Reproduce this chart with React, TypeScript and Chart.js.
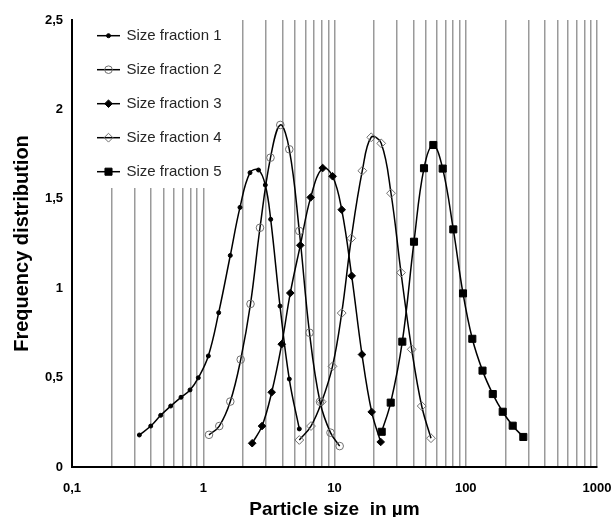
import React, { useEffect, useRef } from 'react';
import { Chart, registerables } from 'chart.js';

Chart.register(...registerables);

// ---- Data ----
const seriesNames = ['Size fraction 1', 'Size fraction 2', 'Size fraction 3', 'Size fraction 4', 'Size fraction 5'];

const sf1X = [0.326, 0.398, 0.474, 0.565, 0.677, 0.793, 0.917, 1.093, 1.311, 1.607, 1.905, 2.271, 2.636, 2.97, 3.265, 3.845, 4.524, 5.393];
const sf1Y = [0.179, 0.229, 0.289, 0.341, 0.39, 0.431, 0.499, 0.621, 0.863, 1.183, 1.452, 1.646, 1.661, 1.577, 1.385, 0.9, 0.492, 0.213];

const sf2X = [1.106, 1.325, 1.607, 1.929, 2.291, 2.706, 3.254, 3.864, 4.524, 5.393, 6.449, 7.753, 9.322, 10.95];
const sf2Y = [0.18, 0.229, 0.366, 0.601, 0.912, 1.338, 1.73, 1.913, 1.777, 1.32, 0.751, 0.365, 0.192, 0.117];

const sf3X = [2.36, 2.804, 3.323, 3.961, 4.604, 5.49, 6.587, 8.128, 9.672, 11.35, 13.52, 16.2, 19.2, 22.49];
const sf3Y = [0.133, 0.229, 0.418, 0.687, 0.973, 1.24, 1.508, 1.672, 1.626, 1.439, 1.069, 0.629, 0.308, 0.14];

const sf4X = [5.393, 6.622, 7.99, 9.656, 11.35, 13.43, 16.29, 19.04, 22.69, 26.95, 32.12, 38.74, 46.17, 54.35];
const sf4Y = [0.151, 0.229, 0.365, 0.563, 0.861, 1.279, 1.657, 1.844, 1.81, 1.531, 1.087, 0.658, 0.341, 0.161];

const sf5X = [22.89, 26.81, 32.86, 40.34, 48.07, 56.6, 66.73, 80.38, 95.3, 112.2, 134.2, 160.7, 191.2, 227.9, 274.5];
const sf5Y = [0.197, 0.36, 0.701, 1.26, 1.671, 1.801, 1.669, 1.329, 0.971, 0.717, 0.539, 0.408, 0.309, 0.231, 0.168];

const xTicks = [
  0.1, 0.2, 0.3, 0.4, 0.5, 0.6, 0.7, 0.8, 0.9,
  1, 2, 3, 4, 5, 6, 7, 8, 9,
  10, 20, 30, 40, 50, 60, 70, 80, 90,
  100, 200, 300, 400, 500, 600, 700, 800, 900,
  1000,
];
const xLabelValues = [0.1, 1, 10, 100, 1000];
const xLabelTexts = ['0,1', '1', '10', '100', '1000'];

const yTicks = [0, 0.5, 1, 1.5, 2, 2.5];
const yTickLabels = ['0', '0,5', '1', '1,5', '2', '2,5'];

const FONT = "'Liberation Sans', Arial, Helvetica, sans-serif";

type MarkerSpec = { style: string; radius: number; fill: string; stroke: string; width: number };
const markers: MarkerSpec[] = [
  { style: 'circle', radius: 2, fill: '#000', stroke: '#000', width: 1 },
  { style: 'circle', radius: 3.8, fill: 'rgba(255,255,255,0)', stroke: '#6f6f6f', width: 1 },
  { style: 'rectRot', radius: 3.8, fill: '#000', stroke: '#000', width: 1 },
  { style: 'rectRot', radius: 4.4, fill: 'rgba(255,255,255,0)', stroke: '#6f6f6f', width: 1 },
  { style: 'rect', radius: 5, fill: '#000', stroke: '#000', width: 1 },
];

function drawMarker(ctx: CanvasRenderingContext2D, m: MarkerSpec, x: number, y: number) {
  ctx.save();
  ctx.beginPath();
  const r = m.radius;
  if (m.style === 'circle') {
    ctx.arc(x, y, r, 0, Math.PI * 2);
  } else if (m.style === 'rectRot') {
    ctx.moveTo(x - r, y);
    ctx.lineTo(x, y - r);
    ctx.lineTo(x + r, y);
    ctx.lineTo(x, y + r);
    ctx.closePath();
  } else {
    const s = Math.SQRT1_2 * r;
    ctx.rect(x - s, y - s, 2 * s, 2 * s);
  }
  ctx.fillStyle = m.fill;
  ctx.fill();
  ctx.lineWidth = m.width;
  ctx.strokeStyle = m.stroke;
  ctx.stroke();
  ctx.restore();
}

const boxLegend = {
  id: 'boxLegend',
  beforeDatasetsDraw(chart: any) {
    const { ctx, chartArea } = chart;
    ctx.save();
    ctx.fillStyle = '#ffffff';
    ctx.fillRect(chartArea.left + 1.5, chartArea.top - 1, 165, 169);
    chart.data.datasets.forEach((ds: any, i: number) => {
      const y = chartArea.top + 15.7 + i * 34;
      const x0 = chartArea.left + 25;
      ctx.beginPath();
      ctx.moveTo(x0, y);
      ctx.lineTo(x0 + 23, y);
      ctx.lineWidth = 1.5;
      ctx.strokeStyle = '#000';
      ctx.stroke();
      drawMarker(ctx, markers[i], x0 + 11.5, y);
      ctx.fillStyle = '#262626';
      ctx.font = `15px ${FONT}`;
      ctx.textAlign = 'left';
      ctx.textBaseline = 'middle';
      ctx.fillText(ds.label, x0 + 29.5, y + 0.5);
    });
    ctx.restore();
  },
};

function toPoints(xs: number[], ys: number[]) {
  return xs.map((x, i) => ({ x, y: ys[i] }));
}

export default function App() {
  const ref = useRef<HTMLCanvasElement>(null);
  useEffect(() => {
    if (!ref.current) return;
    const all = [
      [sf1X, sf1Y],
      [sf2X, sf2Y],
      [sf3X, sf3Y],
      [sf4X, sf4Y],
      [sf5X, sf5Y],
    ];
    const datasets = all.map(([xs, ys], i) => ({
      label: seriesNames[i],
      data: toPoints(xs, ys),
      borderColor: '#000',
      borderWidth: 1.5,
      tension: 0.4,
      pointStyle: markers[i].style,
      pointRadius: markers[i].radius,
      pointBackgroundColor: markers[i].fill,
      pointBorderColor: markers[i].stroke,
      pointBorderWidth: markers[i].width,
      fill: false,
    }));
    const chart = new Chart(ref.current, {
      type: 'line',
      data: { datasets },
      plugins: [boxLegend],
      options: {
        animation: false,
        responsive: false,
        devicePixelRatio: 1,
        layout: { padding: { top: 20, right: 18, left: 0, bottom: 0 } },
        plugins: { legend: { display: false }, tooltip: { enabled: false } },
        scales: {
          x: {
            type: 'logarithmic',
            min: 0.1,
            max: 1000,
            afterBuildTicks: (scale: any) => {
              scale.ticks = xTicks.map((v) => ({ value: v }));
            },
            afterFit: (scale: any) => {
              scale.height = 50;
              scale.paddingLeft = 0;
              scale.paddingRight = 0;
            },
            ticks: {
              autoSkip: false,
              maxRotation: 0,
              padding: 14,
              color: '#000',
              font: { family: FONT, size: 13, weight: 'bold' },
              callback: (value: any) => {
                const v = Number(value);
                const idx = xLabelValues.findIndex((t) => Math.abs(t - v) / t < 1e-6);
                return idx >= 0 ? xLabelTexts[idx] : '';
              },
            },
            grid: { display: true, color: '#9a9a9a', lineWidth: 1.5, drawTicks: false },
            border: { display: true, color: '#000', width: 2 },
            title: {
              display: true,
              text: 'Particle size  in µm',
              color: '#000',
              font: { family: FONT, size: 19, weight: 'bold', lineHeight: 0.8 },
              padding: { top: 0, bottom: 0 },
            },
          },
          y: {
            type: 'linear',
            min: 0,
            max: 2.5,
            afterBuildTicks: (scale: any) => {
              scale.ticks = yTicks.map((v) => ({ value: v }));
            },
            afterFit: (scale: any) => {
              scale.width = 72;
              scale.paddingTop = 0;
              scale.paddingBottom = 0;
            },
            ticks: {
              padding: 9,
              color: '#000',
              font: { family: FONT, size: 13, weight: 'bold' },
              callback: (value: any) => {
                const idx = yTicks.findIndex((t) => Math.abs(t - Number(value)) < 1e-9);
                return idx >= 0 ? yTickLabels[idx] : '';
              },
            },
            grid: { display: false, drawTicks: false },
            border: { display: true, color: '#000', width: 2 },
            title: {
              display: true,
              text: 'Frequency distribution',
              color: '#000',
              font: { family: FONT, size: 20, weight: 'bold', lineHeight: 1.2 },
              padding: { top: 10, bottom: 0 },
            },
          },
        },
      } as any,
    });
    return () => chart.destroy();
  }, []);
  return (
    <div style={{ position: 'absolute', left: 0, top: 0, width: 615, height: 517, background: '#fff' }}>
      <canvas ref={ref} width={615} height={517} style={{ display: 'block' }} />
    </div>
  );
}
